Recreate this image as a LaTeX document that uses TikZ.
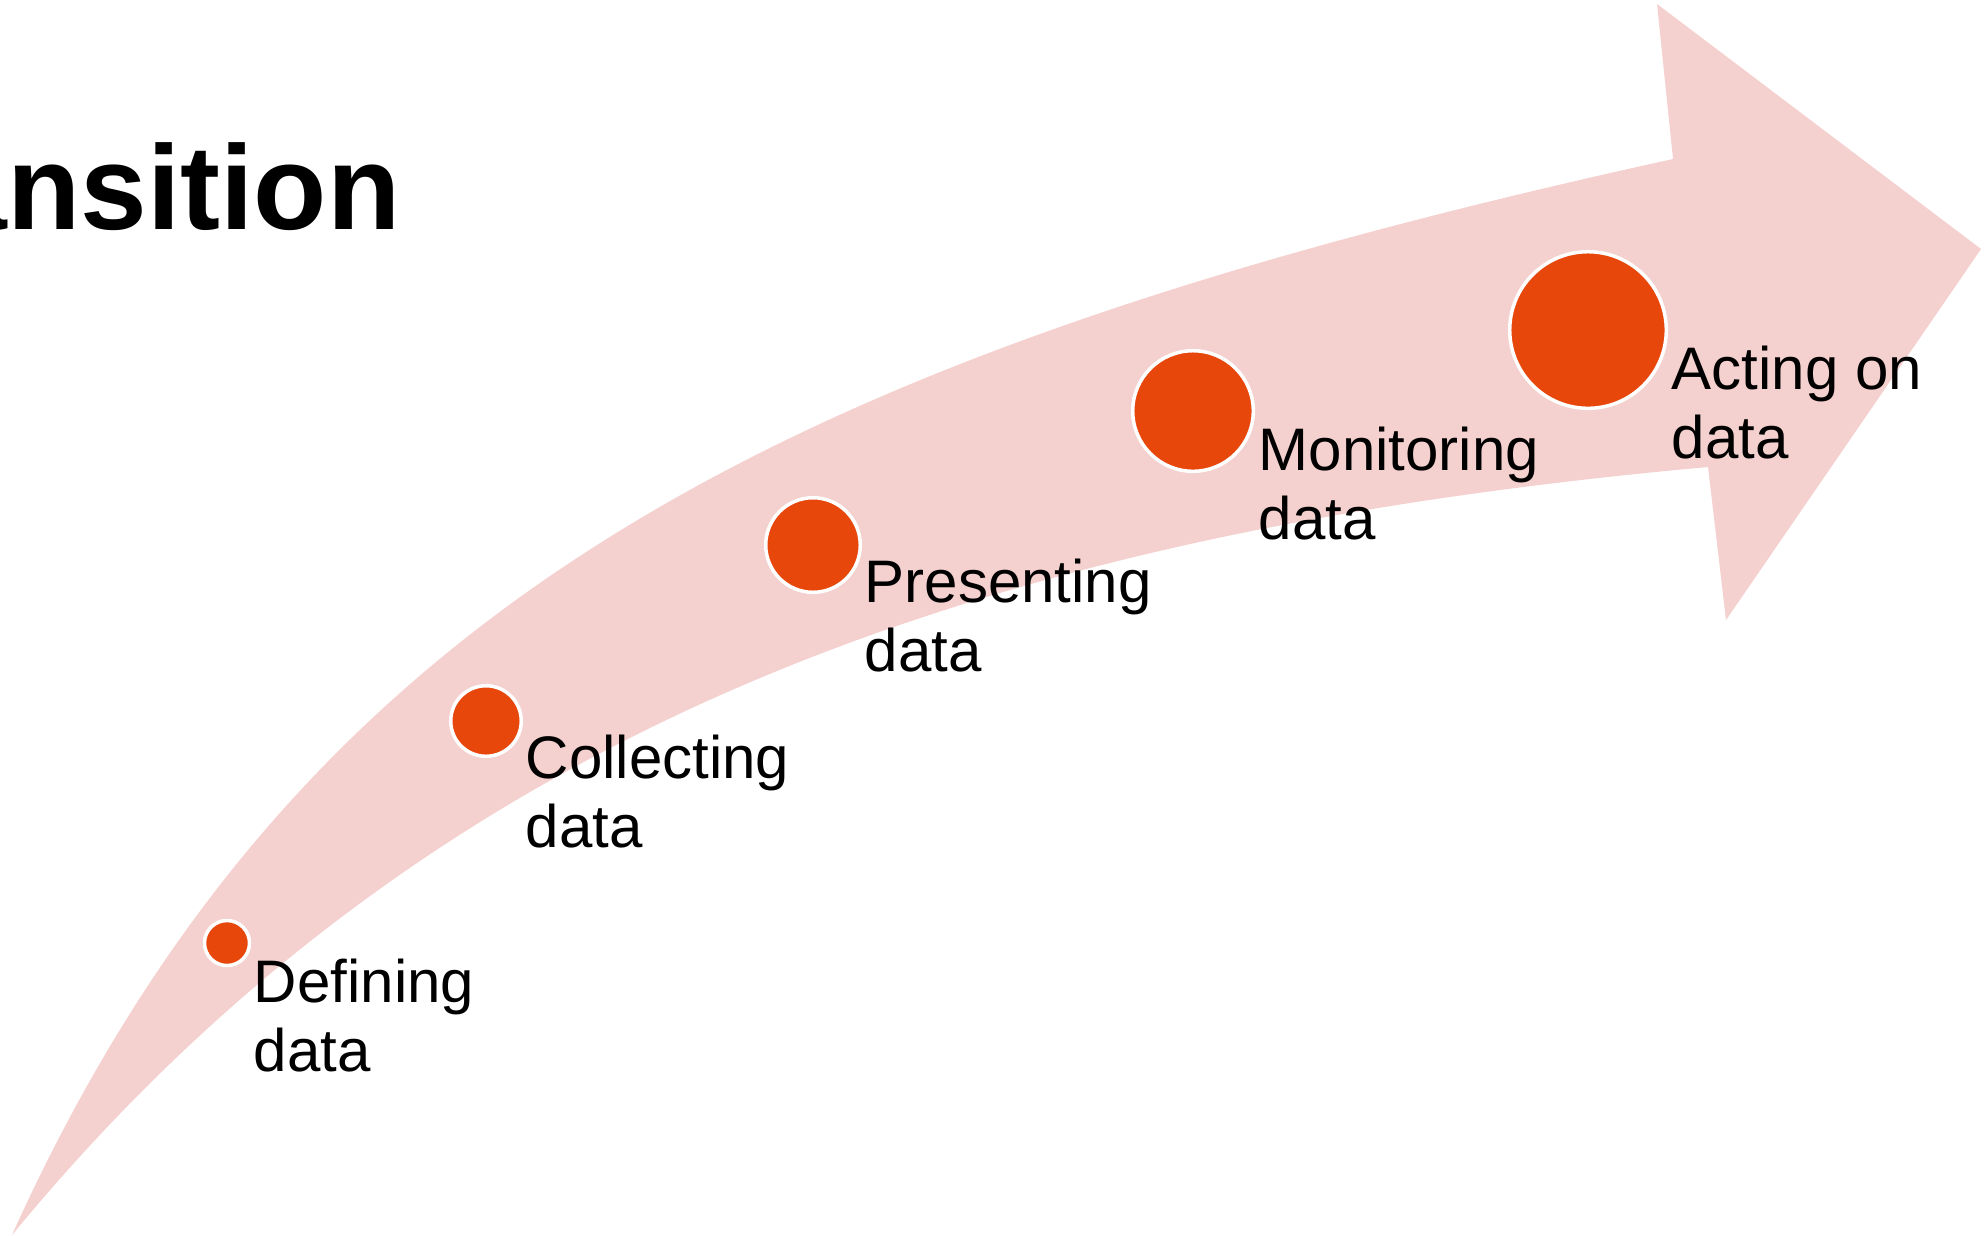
\documentclass[tikz,border=0pt]{standalone}
\usepackage{fontspec}
\setmainfont{Liberation Sans}
\usetikzlibrary{positioning}
\definecolor{bandpink}{RGB}{244,208,206}
\definecolor{dotorange}{RGB}{232,71,12}

\begin{document}
\begin{tikzpicture}[x = .01cm, y = -.01cm,
    dot/.style = {circle, fill = dotorange, draw = white, line width = .035cm, inner sep = 0},
    lbl/.style = {align = left, inner sep = 0, font = \fontsize{17.07}{19.64}\selectfont}]
    \clip (0,0) rectangle (1985,1235);
    % curved band with its head
    \fill[bandpink] (12,1235) .. controls (300,597) and (794,352) .. (1673,159)
        -- (1657,4) -- (1981,249) -- (1726,620) -- (1708,467)
        .. controls (1011,530) and (444,710) .. (12,1235) -- cycle;
    \node[font = \fontsize{34.1}{40}\selectfont\bfseries, anchor = base east, inner sep = 0] (ttl) at (401,229) {ansition};
    \node[dot, minimum size = .45cm] (d1) at (227,943) {};
    \node[dot, minimum size = .705cm] (d2) at (486,721) {};
    \node[dot, minimum size = .945cm] (d3) at (813,545) {};
    \node[dot, minimum size = 1.205cm] (d4) at (1193,411) {};
    \node[dot, minimum size = 1.565cm] (d5) at (1588,330) {};
        % Labels
    \node[lbl, below right = .15cm and .02cm of d1.east] (t1) {Defining\\data};
    \node[lbl, below right = .13cm and .02cm of d2.east] (t2) {Collecting\\data};
    \node[lbl, below right = .13cm and .02cm of d3.east] (t3) {Presenting\\data};
    \node[lbl, below right = .15cm and .03cm of d4.east] (t4) {Monitoring\\data};
    \node[lbl, below right = .15cm and .03cm of d5.east] (t5) {Acting on\\data};
\end{tikzpicture}
\end{document}
